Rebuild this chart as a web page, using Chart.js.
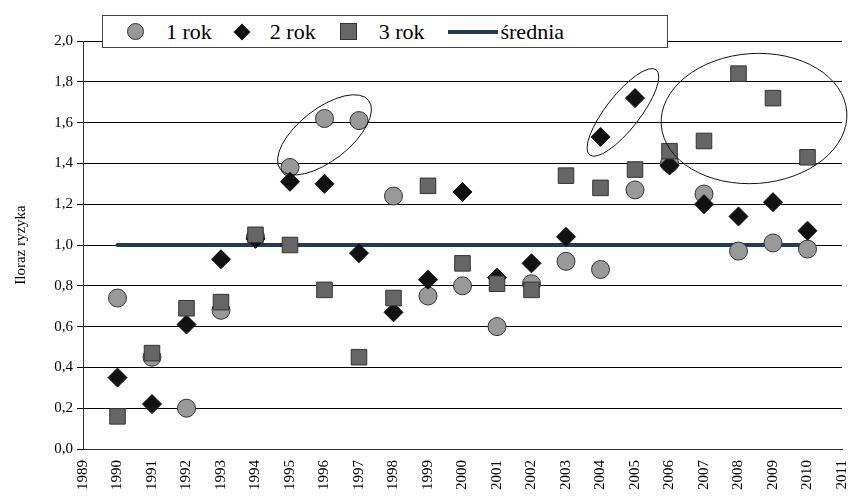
<!DOCTYPE html>
<html><head><meta charset="utf-8">
<script src="https://cdn.jsdelivr.net/npm/chart.js@4"></script>
<style>
body{margin:0;background:#fff}
#wrap{position:relative;width:863px;height:503px}
#leg{position:absolute;left:102px;top:15px;width:564px;height:31px;background:#fff;border:1px solid #444;display:flex;align-items:center;font-family:"Liberation Serif","Times New Roman",serif;font-size:22px;color:#000}
#leg span{display:inline-flex;align-items:center;margin-left:24px}
#leg i{display:inline-block}
.c{width:15px;height:15px;border-radius:50%;background:#999;border:1px solid #333;margin-right:22px}
.d{width:12px;height:12px;background:#111;transform:rotate(45deg);margin-right:22px}
.s{width:15px;height:15px;background:#666;border:1px solid #333;margin-right:22px}
.l{width:50px;height:4px;background:#243b55;margin-right:2px}
</style></head><body>
<div id="wrap"><canvas id="c" width="863" height="503"></canvas>
<div id="leg"><span><i class="c"></i>1 rok</span><span><i class="d"></i>2 rok</span><span><i class="s"></i>3 rok</span><span><i class="l"></i>średnia</span></div></div>
<script>
const years=[1990,1991,1992,1993,1994,1995,1996,1997,1998,1999,2000,2001,2002,2003,2004,2005,2006,2007,2008,2009,2010];
const rok1=[0.74,0.45,0.20,0.68,1.04,1.38,1.62,1.61,1.24,0.75,0.80,0.60,0.81,0.92,0.88,1.27,1.40,1.25,0.97,1.01,0.98];
const rok2=[0.35,0.22,0.61,0.93,1.03,1.31,1.30,0.96,0.67,0.83,1.26,0.84,0.91,1.04,1.53,1.72,1.39,1.20,1.14,1.21,1.07];
const rok3=[0.16,0.47,0.69,0.72,1.05,1.00,0.78,0.45,0.74,1.29,0.91,0.81,0.78,1.34,1.28,1.37,1.46,1.51,1.84,1.72,1.43];
const srednia=1.0;
const ellipses=[{x:1996.0,y:1.54,rx:56,ry:26,rot:-38},{x:2004.65,y:1.65,rx:54,ry:17,rot:-52},{x:2008.45,y:1.62,rx:93,ry:65,rot:-4}];
const pts=a=>years.map((y,i)=>({x:y,y:a[i]}));
const ell={id:'ell',afterDatasetsDraw(ch){const c=ch.ctx,xs=ch.scales.x,ys=ch.scales.y;c.save();c.strokeStyle='#111';c.lineWidth=1;
ellipses.forEach(e=>{c.beginPath();c.ellipse(xs.getPixelForValue(e.x),ys.getPixelForValue(e.y),e.rx,e.ry,e.rot*Math.PI/180,0,2*Math.PI);c.stroke();});c.restore();}};
const F="'Liberation Serif', 'Times New Roman', serif";
new Chart(document.getElementById('c'),{type:'scatter',
data:{datasets:[
{label:'średnia',type:'line',data:[{x:years[0],y:srednia},{x:years[years.length-1],y:srednia}],borderColor:'#243b55',borderWidth:4,pointRadius:0,borderCapStyle:'round',order:4},
{label:'1 rok',data:pts(rok1),pointStyle:'circle',pointRadius:9,backgroundColor:'#999',borderColor:'#333',borderWidth:1,order:3},
{label:'2 rok',data:pts(rok2),pointStyle:'rectRot',pointRadius:9.5,backgroundColor:'#111',borderColor:'#111',borderWidth:1,order:2},
{label:'3 rok',data:pts(rok3),pointStyle:'rect',pointRadius:11,backgroundColor:'#666',borderColor:'#333',borderWidth:1,order:1}]},
options:{responsive:false,animation:false,layout:{padding:{top:41,right:8}},
plugins:{legend:{display:false},tooltip:{enabled:false}},
scales:{x:{type:'linear',min:1989,max:2011,afterFit:s=>{s.height=54},grid:{display:false,drawTicks:true},border:{color:'#333'},
ticks:{stepSize:1,autoSkip:false,minRotation:90,maxRotation:90,color:'#000',font:{family:F,size:15},callback:v=>String(v)}},
y:{min:0,max:2,afterFit:s=>{s.width=83},grid:{color:'#000',lineWidth:1,tickLength:6},border:{color:'#333'},
ticks:{stepSize:0.2,color:'#000',padding:4,font:{family:F,size:15},callback:v=>v.toFixed(1).replace('.',',')},
title:{display:true,text:'Iloraz ryzyka',color:'#000',padding:{top:12,bottom:0},font:{family:F,size:15}}}}},
plugins:[ell]});
</script></body></html>
